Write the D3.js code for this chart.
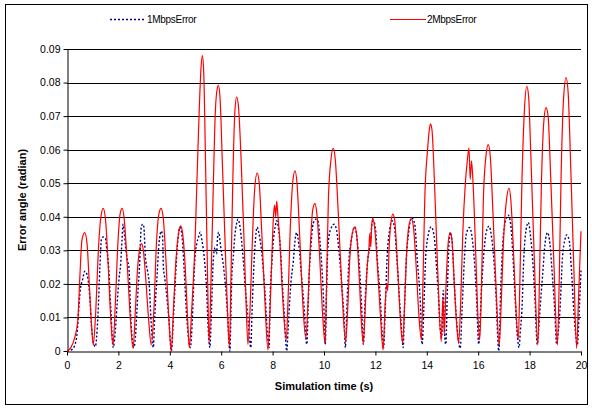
<!DOCTYPE html>
<html><head><meta charset="utf-8">
<script src="https://cdn.jsdelivr.net/npm/d3@7"></script>
<style>
html,body{margin:0;padding:0;background:#fff;}
svg text{font-family:"Liberation Sans",Arial,sans-serif;}
</style></head>
<body>
<svg id="chart" width="592" height="410"></svg>
<script>
// ---- data ----
const seriesNames = ["1MbpsError", "2MbpsError"];
const xTicks = [0,2,4,6,8,10,12,14,16,18,20];
const yTicks = [0,0.01,0.02,0.03,0.04,0.05,0.06,0.07,0.08,0.09];
const xTitle = "Simulation time (s)";
const yTitle = "Error angle (radian)";

// 2 Mbps error [time, value]
const err2Mbps = [
 [0,0],[0.15,0.001],[0.3,0.004],[0.42,0.009],[0.5,0.022],[0.58,0.033],[0.69,0.0353],[0.78,0.032],[0.88,0.018],[0.97,0.006],[1.02,0.0018],
 [1.12,0.012],[1.22,0.03],[1.32,0.04],[1.41,0.0425],[1.5,0.039],[1.6,0.026],[1.7,0.01],[1.79,0.0018],
 [1.88,0.014],[1.98,0.032],[2.07,0.041],[2.15,0.0425],[2.23,0.039],[2.35,0.025],[2.47,0.009],[2.57,0.0008],
 [2.66,0.012],[2.74,0.024],[2.82,0.03],[2.9,0.032],[2.97,0.03],[3.06,0.022],[3.17,0.01],[3.28,0.0018],
 [3.38,0.012],[3.48,0.032],[3.58,0.041],[3.66,0.0425],[3.74,0.04],[3.85,0.027],[3.96,0.01],[4.06,0.0],
 [4.14,0.012],[4.24,0.027],[4.34,0.035],[4.42,0.0373],[4.5,0.035],[4.6,0.025],[4.69,0.01],[4.76,0.001],
 [4.85,0.012],[4.98,0.032],[5.05,0.049],[5.15,0.073],[5.22,0.085],[5.27,0.088],[5.32,0.083],[5.4,0.052],[5.47,0.022],[5.53,0.0024],
 [5.6,0.02],[5.68,0.045],[5.77,0.071],[5.84,0.078],[5.89,0.0792],[5.95,0.076],[6.05,0.055],[6.17,0.028],[6.26,0.009],[6.32,0.0013],
 [6.38,0.022],[6.45,0.05],[6.53,0.071],[6.6,0.0757],[6.67,0.073],[6.77,0.058],[6.88,0.035],[6.97,0.014],[7.04,0.002],
 [7.12,0.012],[7.2,0.03],[7.3,0.048],[7.4,0.053],[7.48,0.05],[7.58,0.035],[7.7,0.015],[7.82,0.0003],
 [7.9,0.012],[7.98,0.03],[8.04,0.041],[8.08,0.0435],[8.12,0.040],[8.16,0.0447],[8.2,0.041],[8.28,0.033],[8.4,0.015],[8.53,0.0033],
 [8.6,0.015],[8.68,0.035],[8.78,0.05],[8.87,0.0537],[8.95,0.05],[9.05,0.035],[9.17,0.015],[9.29,0.0038],
 [9.38,0.015],[9.46,0.03],[9.56,0.042],[9.65,0.044],[9.72,0.041],[9.82,0.03],[9.93,0.013],[10.04,0.0023],
 [10.1,0.02],[10.17,0.045],[10.27,0.057],[10.36,0.0604],[10.44,0.057],[10.55,0.042],[10.7,0.018],[10.84,0.0028],
 [10.92,0.012],[11.0,0.027],[11.1,0.035],[11.2,0.037],[11.28,0.034],[11.37,0.022],[11.46,0.008],[11.53,0.0023],
 [11.6,0.012],[11.68,0.025],[11.75,0.031],[11.78,0.035],[11.82,0.031],[11.86,0.038],[11.9,0.0396],[11.98,0.036],[12.08,0.025],[12.2,0.01],[12.3,0.0003],
 [12.38,0.014],[12.45,0.02],[12.48,0.018],[12.53,0.03],[12.6,0.038],[12.68,0.0408],[12.75,0.039],[12.85,0.027],[12.96,0.011],[13.06,0.0023],
 [13.14,0.015],[13.22,0.03],[13.32,0.038],[13.4,0.0393],[13.48,0.037],[13.58,0.026],[13.69,0.011],[13.79,0.0033],
 [13.85,0.02],[13.92,0.045],[14.03,0.06],[14.1,0.066],[14.14,0.0677],[14.2,0.066],[14.3,0.05],[14.42,0.025],[14.56,0.0028],
 [14.63,0.016],[14.68,0.005],[14.75,0.02],[14.83,0.032],[14.91,0.0353],[14.98,0.033],[15.07,0.02],[15.17,0.007],[15.24,0.0023],
 [15.32,0.015],[15.4,0.035],[15.5,0.05],[15.58,0.057],[15.64,0.0605],[15.69,0.0512],[15.74,0.0567],[15.8,0.05],[15.9,0.03],[15.98,0.012],[16.06,0.0033],
 [16.13,0.02],[16.2,0.045],[16.3,0.058],[16.39,0.0615],[16.47,0.058],[16.57,0.042],[16.7,0.018],[16.82,0.0018],
 [16.9,0.015],[16.98,0.032],[17.1,0.045],[17.2,0.0485],[17.27,0.045],[17.36,0.032],[17.46,0.014],[17.56,0.0033],
 [17.62,0.02],[17.7,0.05],[17.8,0.072],[17.89,0.0789],[17.96,0.076],[18.05,0.058],[18.18,0.028],[18.32,0.0018],
 [18.38,0.02],[18.46,0.05],[18.56,0.069],[18.64,0.0725],[18.72,0.07],[18.82,0.052],[18.95,0.025],[19.08,0.0018],
 [19.15,0.02],[19.22,0.05],[19.32,0.075],[19.42,0.0815],[19.5,0.077],[19.6,0.055],[19.72,0.025],[19.83,0.0008],
 [19.9,0.015],[20.0,0.0357]
];

// 1 Mbps error [time, value]
const err1Mbps = [
 [0,0],[0.2,0.0005],[0.35,0.003],[0.42,0.008],[0.47,0.014],[0.53,0.019],[0.6,0.021],[0.69,0.0238],[0.78,0.0228],[0.88,0.0168],[0.97,0.0058],[1.1,0.0013],
 [1.2,0.01],[1.28,0.025],[1.34,0.0333],[1.41,0.034],[1.5,0.0335],[1.55,0.03],[1.6,0.027],[1.7,0.013],[1.8,0.001],
 [1.88,0.006],[1.95,0.014],[2.03,0.022],[2.09,0.026],[2.14,0.033],[2.18,0.0378],[2.22,0.036],[2.28,0.031],[2.35,0.027],[2.41,0.025],[2.48,0.01],[2.6,0.001],
 [2.66,0.004],[2.72,0.012],[2.77,0.019],[2.82,0.025],[2.89,0.037],[2.95,0.0378],[2.99,0.037],[3.05,0.028],[3.13,0.024],[3.2,0.02],[3.27,0.009],[3.36,0.001],
 [3.4,0.008],[3.46,0.017],[3.51,0.0233],[3.58,0.032],[3.67,0.0357],[3.72,0.034],[3.75,0.025],[3.8,0.022],[3.9,0.015],[3.97,0.009],[4.06,0.0],
 [4.14,0.01],[4.22,0.022],[4.3,0.032],[4.4,0.0369],[4.48,0.034],[4.56,0.024],[4.66,0.01],[4.8,0.001],
 [4.88,0.01],[4.93,0.02],[4.98,0.028],[5.05,0.032],[5.12,0.034],[5.18,0.0354],[5.25,0.033],[5.34,0.0278],[5.43,0.0188],[5.5,0.006],[5.56,0.001],
 [5.62,0.012],[5.69,0.0268],[5.76,0.0308],[5.82,0.029],[5.86,0.034],[5.9,0.0354],[5.98,0.031],[6.08,0.0258],[6.16,0.02],[6.24,0.0118],[6.34,0.0],
 [6.38,0.012],[6.41,0.0218],[6.47,0.028],[6.53,0.0343],[6.6,0.038],[6.65,0.0393],[6.74,0.0366],[6.85,0.0278],[6.95,0.0178],[7.04,0.0098],[7.1,0.004],[7.15,0.001],
 [7.2,0.012],[7.25,0.0218],[7.32,0.032],[7.4,0.0369],[7.47,0.035],[7.57,0.0298],[7.7,0.0178],[7.81,0.004],[7.86,0.001],
 [7.9,0.015],[7.96,0.025],[8.03,0.033],[8.1,0.037],[8.16,0.0388],[8.22,0.037],[8.31,0.0298],[8.38,0.0198],[8.44,0.0128],[8.55,0.0],
 [8.6,0.006],[8.64,0.0118],[8.72,0.021],[8.81,0.027],[8.87,0.0328],[8.94,0.0353],[9.02,0.0318],[9.11,0.0238],[9.22,0.0138],[9.33,0.002],
 [9.38,0.012],[9.42,0.022],[9.48,0.03],[9.58,0.038],[9.68,0.0393],[9.77,0.0388],[9.85,0.032],[9.94,0.022],[10.0,0.012],[10.05,0.002],
 [10.09,0.015],[10.13,0.027],[10.19,0.034],[10.3,0.037],[10.39,0.0378],[10.49,0.036],[10.58,0.03],[10.65,0.0238],[10.71,0.0178],[10.78,0.0098],[10.83,0.001],
 [10.9,0.015],[10.97,0.027],[11.06,0.033],[11.2,0.037],[11.29,0.033],[11.39,0.0238],[11.46,0.0138],[11.53,0.002],
 [11.6,0.015],[11.7,0.027],[11.8,0.032],[11.87,0.038],[11.92,0.0388],[12.01,0.036],[12.07,0.028],[12.19,0.0158],[12.25,0.0068],[12.32,0.001],
 [12.38,0.012],[12.45,0.027],[12.55,0.036],[12.65,0.0388],[12.74,0.037],[12.84,0.027],[12.95,0.0138],[13.04,0.004],[13.08,0.001],
 [13.13,0.012],[13.2,0.027],[13.29,0.035],[13.4,0.0398],[13.53,0.0378],[13.63,0.027],[13.74,0.0158],[13.82,0.002],
 [13.88,0.012],[13.95,0.027],[14.04,0.034],[14.17,0.037],[14.29,0.034],[14.36,0.027],[14.45,0.017],[14.52,0.007],[14.58,0.004],[14.64,0.018],[14.7,0.004],[14.74,0.002],
 [14.8,0.018],[14.85,0.03],[14.91,0.0353],[14.98,0.033],[15.07,0.02],[15.17,0.008],[15.3,0.0008],
 [15.37,0.012],[15.46,0.027],[15.54,0.035],[15.67,0.0368],[15.76,0.034],[15.85,0.027],[15.93,0.017],[16.02,0.002],
 [16.08,0.01],[16.14,0.02],[16.23,0.03],[16.33,0.036],[16.42,0.0372],[16.52,0.034],[16.61,0.027],[16.69,0.017],[16.8,0.0],
 [16.87,0.017],[16.94,0.03],[17.04,0.038],[17.17,0.0405],[17.26,0.038],[17.34,0.03],[17.43,0.017],[17.53,0.004],[17.59,0.001],
 [17.64,0.006],[17.7,0.012],[17.77,0.027],[17.86,0.036],[17.95,0.0383],[18.04,0.034],[18.12,0.027],[18.2,0.017],[18.3,0.002],
 [18.35,0.006],[18.4,0.012],[18.5,0.022],[18.6,0.032],[18.7,0.0353],[18.79,0.032],[18.89,0.022],[18.98,0.012],[19.05,0.002],
 [19.12,0.006],[19.18,0.012],[19.28,0.028],[19.37,0.033],[19.44,0.0346],[19.54,0.033],[19.63,0.024],[19.72,0.012],[19.86,0.002],
 [19.93,0.012],[20.0,0.024]
];

// ---- drawing ----
const svg = d3.select("#chart");
const W = 592, H = 410;
const m = {left: 67, right: 11, top: 49, bottom: 59};

svg.append("rect").attr("x", 5.5).attr("y", 4.5).attr("width", 582).attr("height", 400)
  .attr("fill", "#fff").attr("stroke", "#000").attr("stroke-width", 1);

const x = d3.scaleLinear().domain([0, 20]).range([m.left, W - m.right]);
const y = d3.scaleLinear().domain([0, 0.09]).range([H - m.bottom, m.top]);

// gridlines
svg.append("g").selectAll("line").data(yTicks.filter(d => d > 0)).join("line")
  .attr("x1", x(0)).attr("x2", x(20))
  .attr("y1", d => Math.round(y(d)) + 0.5).attr("y2", d => Math.round(y(d)) + 0.5)
  .attr("stroke", "#000").attr("stroke-width", 1);

// axes
const xAxis = svg.append("g").attr("transform", `translate(0,${Math.round(y(0)) + 0.5})`)
  .call(d3.axisBottom(x).tickValues(xTicks).tickFormat(d3.format("d")).tickSize(4).tickSizeOuter(0));
const yAxis = svg.append("g").attr("transform", `translate(${Math.round(x(0)) + 0.5},0)`)
  .call(d3.axisLeft(y).tickValues(yTicks).tickFormat(d => d === 0 ? "0" : d3.format(".2f")(d)).tickSize(4).tickSizeOuter(0));
[xAxis, yAxis].forEach(g => {
  g.select(".domain").attr("stroke", "#000");
  g.selectAll(".tick line").attr("stroke", "#000");
  g.selectAll(".tick text").attr("fill", "#000").style("font-size", "10.5px")
    .style("font-family", "'Liberation Sans', Arial, sans-serif");
});
xAxis.selectAll(".tick text").attr("dy", "0.95em").attr("y", 8);
yAxis.selectAll(".tick text").attr("x", -7);

// lines
const line = d3.line().x(d => x(d[0])).y(d => y(d[1])).curve(d3.curveMonotoneX);
const g = svg.append("g");
g.append("path").datum(err1Mbps).attr("d", line)
  .attr("fill", "none").attr("stroke", "#000080").attr("stroke-width", 1.4)
  .attr("stroke-dasharray", "2,2");
g.append("path").datum(err2Mbps).attr("d", line)
  .attr("fill", "none").attr("stroke", "#ff0000").attr("stroke-width", 1.2);

// axis titles
svg.append("text").attr("x", 324).attr("y", 390).attr("text-anchor", "middle")
  .style("font-size", "11px").style("font-weight", "bold").text(xTitle);
svg.append("text").attr("transform", `translate(26,${(y(0) + y(0.09)) / 2}) rotate(-90)`)
  .attr("text-anchor", "middle").style("font-size", "11px").style("font-weight", "bold").text(yTitle);

// legend
const legend = [
  {name: seriesNames[0], x: 110, color: "#000080", dash: "2,2", w: 1.4},
  {name: seriesNames[1], x: 390, color: "#ff0000", dash: null, w: 1.2}
];
legend.forEach(l => {
  svg.append("line").attr("x1", l.x).attr("x2", l.x + 36).attr("y1", 19.5).attr("y2", 19.5)
    .attr("stroke", l.color).attr("stroke-width", l.w).attr("stroke-dasharray", l.dash);
  svg.append("text").attr("x", l.x + 37).attr("y", 23).style("font-size", "10px")
    .style("letter-spacing", "-0.3px").text(l.name);
});
</script>
</body></html>
